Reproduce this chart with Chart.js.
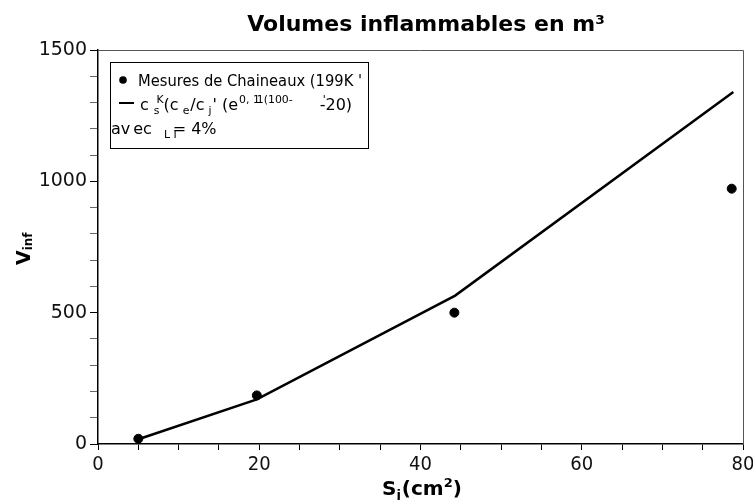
<!DOCTYPE html>
<html>
<head>
<meta charset="utf-8">
<script src="https://cdn.jsdelivr.net/npm/chart.js@4"></script>
<style>
  html, body { margin: 0; padding: 0; background: #fff; }
  #wrap { position: relative; width: 753px; height: 500px; }
</style>
</head>
<body>
<div id="wrap"><canvas id="chart" width="753" height="500"></canvas></div>
<script>
// measured points (Chaineaux)
var mesX = [5, 19.7, 44.2, 78.6];
var mesY = [20, 185, 500, 972];
// model curve
var modX = [5, 19.7, 44.3, 78.8];
var modY = [18, 170, 565, 1340];

var xTicks = [0, 20, 40, 60, 80];
var yTicks = [0, 500, 1000, 1500];

var pts = mesX.map(function (x, i) { return { x: x, y: mesY[i] }; });
var curve = modX.map(function (x, i) { return { x: x, y: modY[i] }; });

// draw a line of text with sub/superscripts
function rich(ctx, x, y, parts, size) {
  parts.forEach(function (p) {
    var s = p.s ? size * 0.68 : size;
    var dy = p.s === 'sub' ? size * 0.28 : (p.s === 'sup' ? -size * 0.45 : 0);
    ctx.font = s + 'px "DejaVu Sans"';
    ctx.fillText(p.t, x, y + dy);
    x += ctx.measureText(p.t).width + (p.gap || 0);
  });
  return x;
}

var decor = {
  id: 'decor',
  afterDraw: function (chart) {
    var ctx = chart.ctx, a = chart.chartArea;
    ctx.save();
    // frame top/right
    ctx.strokeStyle = '#555';
    ctx.lineWidth = 1;
    ctx.beginPath();
    ctx.moveTo(a.left, a.top + 0.5);
    ctx.lineTo(a.right + 0.5, a.top + 0.5);
    ctx.lineTo(a.right + 0.5, a.bottom);
    ctx.stroke();

    ctx.fillStyle = '#000';
    ctx.textBaseline = 'alphabetic';
    // title
    ctx.textAlign = 'center';
    ctx.font = 'bold 22px "DejaVu Sans"';
    ctx.fillText('Volumes inflammables en m³', 426, 31);

    // x axis title
    ctx.textAlign = 'left';
    var xx = 382, by = 495;
    ctx.font = 'bold 20px "DejaVu Sans"';
    ctx.fillText('S', xx, by); xx += ctx.measureText('S').width;
    ctx.font = 'bold 13px "DejaVu Sans"';
    ctx.fillText('j', xx, by + 4); xx += ctx.measureText('j').width + 1;
    ctx.font = 'bold 20px "DejaVu Sans"';
    ctx.fillText('(cm', xx, by); xx += ctx.measureText('(cm').width;
    ctx.font = 'bold 13px "DejaVu Sans"';
    ctx.fillText('2', xx, by - 8); xx += ctx.measureText('2').width;
    ctx.font = 'bold 20px "DejaVu Sans"';
    ctx.fillText(')', xx, by);

    // y axis title
    ctx.save();
    ctx.translate(30, 265);
    ctx.rotate(-Math.PI / 2);
    ctx.font = 'bold 19px "DejaVu Sans"';
    ctx.fillText('V', 0, 0);
    var vw = ctx.measureText('V').width;
    ctx.font = 'bold 12px "DejaVu Sans"';
    ctx.fillText('inf', vw, 2);
    ctx.restore();

    // legend box
    var lx = 110, ly = 62, lw = 258, lh = 86;
    ctx.fillStyle = '#fff';
    ctx.fillRect(lx, ly, lw, lh);
    ctx.strokeStyle = '#000';
    ctx.lineWidth = 1;
    ctx.strokeRect(lx + 0.5, ly + 0.5, lw, lh);
    ctx.fillStyle = '#000';
    ctx.beginPath();
    ctx.arc(123, 80, 3.8, 0, Math.PI * 2);
    ctx.fill();
    ctx.save();
    ctx.translate(138, 86);
    ctx.scale(0.95, 1);
    ctx.font = '15.5px "DejaVu Sans"';
    ctx.fillText("Mesures de Chaineaux (199K '", 0, 0);
    ctx.restore();
    ctx.lineWidth = 2;
    ctx.beginPath();
    ctx.moveTo(119, 103);
    ctx.lineTo(134, 103);
    ctx.stroke();
    rich(ctx, 140, 110, [
      { t: 'c', gap: 5 }, { t: 's', s: 'sub', gap: -3 }, { t: 'K', s: 'sup' }, { t: '(c', gap: 4 },
      { t: 'e', s: 'sub', gap: 1 }, { t: '/c', gap: 4 }, { t: 'j', s: 'sub', gap: 1 }, { t: "' (e", gap: 1 },
      { t: '0, 1', s: 'sup', gap: -3 }, { t: '1(100-', s: 'sup', gap: 30 },
      { t: "'", s: 'sup', gap: -6 }, { t: '-20)' }
    ], 16);
    rich(ctx, 111, 134, [
      { t: 'av', gap: 3 }, { t: 'ec', gap: 12 }, { t: 'L I', s: 'sub', gap: -4 }, { t: '= 4%' }
    ], 16);
    ctx.restore();
  }
};

new Chart(document.getElementById('chart'), {
  type: 'scatter',
  data: {
    datasets: [
      {
        label: 'Mesures de Chaineaux',
        data: pts,
        backgroundColor: '#000',
        borderColor: '#000',
        pointRadius: 4.5,
        showLine: false
      },
      {
        label: 'modele',
        data: curve,
        borderColor: '#000',
        borderWidth: 2.5,
        pointRadius: 0,
        showLine: true,
        fill: false
      }
    ]
  },
  options: {
    responsive: false,
    animation: false,
    layout: { padding: { top: 50, right: 10, left: 0, bottom: 0 } },
    plugins: { legend: { display: false }, tooltip: { enabled: false } },
    scales: {
      x: {
        type: 'linear', min: 0, max: 80,
        border: { color: '#000', width: 1.5 },
        grid: { drawOnChartArea: false, tickLength: 6, color: '#000' },
        ticks: {
          stepSize: 5, autoSkip: false, maxRotation: 0, padding: 3,
          color: '#111',
          font: { family: '"DejaVu Sans Condensed"', size: 20 },
          callback: function (v) { return xTicks.indexOf(v) >= 0 ? String(v) : ''; }
        },
        afterFit: function (s) { s.height = 56; s.paddingLeft = 0; s.paddingRight = 0; }
      },
      y: {
        type: 'linear', min: 0, max: 1500,
        border: { color: '#000', width: 1.5 },
        grid: {
          drawOnChartArea: false, tickLength: 8, color: '#000',
          tickColor: function (c) { return yTicks.indexOf(c.tick.value) >= 0 ? '#000' : '#666'; }
        },
        ticks: {
          stepSize: 100, autoSkip: false, padding: 3,
          color: '#111',
          font: { family: '"DejaVu Sans"', size: 19 },
          callback: function (v) { return yTicks.indexOf(v) >= 0 ? String(v) : ''; }
        },
        afterFit: function (s) { s.width = 98; s.paddingTop = 0; s.paddingBottom = 0; }
      }
    }
  },
  plugins: [decor]
});
</script>
</body>
</html>
